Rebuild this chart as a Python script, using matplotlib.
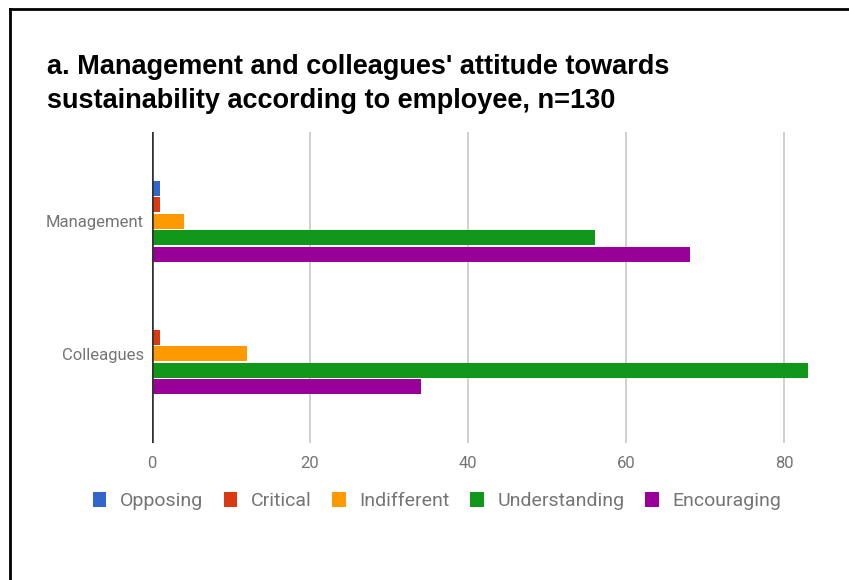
import numpy as np
import matplotlib.pyplot as plt
from matplotlib.patches import Patch
from matplotlib.lines import Line2D

# attitude counts per group (n=130 each)
groups = ['Management', 'Colleagues']
attitudes = ['Opposing', 'Critical', 'Indifferent', 'Understanding', 'Encouraging']
management = [1, 1, 4, 56, 68]
colleagues = [0, 1, 12, 83, 34]
colors = ['#3366cc', '#dc3912', '#ff9900', '#109618', '#990099']
xticks = [0, 20, 40, 60, 80]

W, H = 849, 580
fig = plt.figure(figsize=(W / 100, H / 100), dpi=100)
fig.patch.set_facecolor('white')

# plot area in pixels: left 152, top 132, bottom 443
ax = fig.add_axes([152 / W, (H - 443) / H, 664 / W, 311 / H])

grey = '#757575'
pitch = 0.1245
height = 0.113
y = np.arange(len(groups))
values = np.array([management, colleagues])

for i, name in enumerate(attitudes):
    ax.barh(y + (i - 2) * pitch, values[:, i], height=height,
            color=colors[i], label=name, zorder=3)

ax.set_xlim(0, 84)
ax.set_ylim(1.673, -0.673)
ax.set_xticks(xticks)
ax.set_yticks(y)
ax.set_yticklabels(groups)
ax.tick_params(length=0, labelsize=12, labelcolor=grey)
ax.tick_params(axis='x', pad=9)
ax.tick_params(axis='y', pad=6)
for lab in ax.get_xticklabels() + ax.get_yticklabels():
    lab.set_family('Roboto')

ax.grid(axis='x', color='#cccccc', linewidth=1.3, zorder=0)
for s in ax.spines.values():
    s.set_visible(False)
ax.axvline(0, color='#333333', linewidth=1.9, zorder=4)

fig.text(47 / W, 1 - 108 / H,
         "a. Management and colleagues' attitude towards\n"
         "sustainability according to employee, n=130",
         family='Liberation Sans', weight='bold', fontsize=19.5,
         color='black', ha='left', va='baseline', linespacing=1.4)

handles = [Patch(facecolor=c, edgecolor='none') for c in colors]
fig.legend(handles, attitudes, loc='center', bbox_to_anchor=(437 / W, 1 - 501 / H),
           ncol=5, frameon=False, prop={'family': 'Roboto', 'size': 14},
           labelcolor=grey, handlelength=0.7, handleheight=0.78,
           handletextpad=0.7, columnspacing=1.06)

# frame lines on the left and top
fig.add_artist(Line2D([9.5 / W, 9.5 / W], [0, 1 - 9 / H], color='black',
                      linewidth=2.0, transform=fig.transFigure))
fig.add_artist(Line2D([9.5 / W, 1], [1 - 9 / H, 1 - 9 / H], color='black',
                      linewidth=2.0, transform=fig.transFigure))

fig.savefig('out.png', dpi=100)
